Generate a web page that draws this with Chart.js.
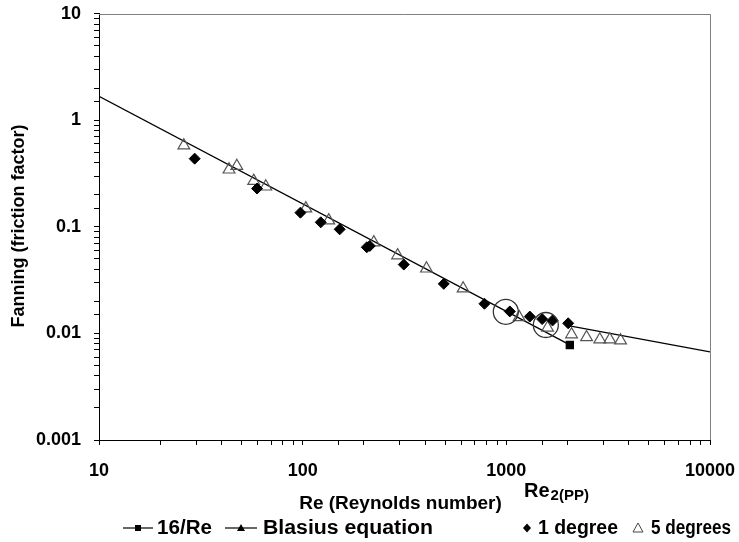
<!DOCTYPE html>
<html><head><meta charset="utf-8">
<script src="https://cdn.jsdelivr.net/npm/chart.js@4.4.1/dist/chart.umd.min.js"></script>
<style>html,body{margin:0;padding:0;background:#fff;}</style>
</head><body>
<canvas id="c" width="739" height="542" style="display:block;width:739px;height:542px"></canvas>
<script>
const laminarRe = [10, 2050];
const laminarF = [1.68, 0.0078];
const blasiusRe = [2075, 10000];
const blasiusF = [0.0117, 0.0067];
const deg1Re = [29.5, 59.7, 97.5, 122.7, 152, 206.5, 213.6, 313.7, 493, 781, 1040, 1304, 1499, 1686, 2012];
const deg1F = [0.437, 0.229, 0.136, 0.1104, 0.0949, 0.0644, 0.0663, 0.0443, 0.0292, 0.019, 0.0161, 0.0144, 0.01364, 0.01324, 0.01246];
const deg5Re = [26.1, 43.5, 47.5, 57.5, 65.9, 103.6, 134.3, 223.4, 292.5, 405.5, 613.6, 1156, 1594, 2090, 2477, 2878, 3222, 3639];
const deg5F = [0.58, 0.345, 0.373, 0.27, 0.239, 0.149, 0.115, 0.0715, 0.054, 0.0406, 0.0264, 0.0142, 0.0113, 0.0098, 0.0092, 0.00877, 0.00877, 0.00858];
const circleRe = [994, 1563];
const circleF = [0.01596, 0.012];
const xTickLabels = ['10', '100', '1000', '10000'];
const yTickLabels = ['0.001', '0.01', '0.1', '1', '10'];
const legendLabels = ['16/Re', 'Blasius equation', '1 degree', '5 degrees'];

const FONT = '"Liberation Sans", Arial, sans-serif';
const pts = (xs, ys) => xs.map((x, i) => ({x: x, y: ys[i]}));

function fitText(ctx, text, x, y, width) {
  const nat = ctx.measureText(text).width;
  ctx.save();
  ctx.translate(x, y);
  ctx.scale(width / nat, 1);
  ctx.fillText(text, 0, 0);
  ctx.restore();
}

const decor = {
  id: 'decor',
  afterDraw(chart) {
    const ctx = chart.ctx, a = chart.chartArea;
    ctx.save();
    // top & right frame
    ctx.strokeStyle = '#808080'; ctx.lineWidth = 1;
    ctx.beginPath();
    ctx.moveTo(a.left, Math.round(a.top) + 0.5);
    ctx.lineTo(Math.round(a.right) + 0.5, Math.round(a.top) + 0.5);
    ctx.lineTo(Math.round(a.right) + 0.5, a.bottom);
    ctx.stroke();
    ctx.fillStyle = '#000';
    ctx.textBaseline = 'middle';
    // x title
    ctx.font = 'bold 19px ' + FONT;
    ctx.textAlign = 'center';
    ctx.fillText('Re (Reynolds number)', (a.left + a.right) / 2 - 4, 504);
    // Re2(PP)
    ctx.textAlign = 'left';
    ctx.font = 'bold 20px ' + FONT;
    ctx.fillText('Re', 524, 491);
    const w = ctx.measureText('Re').width;
    ctx.font = 'bold 15px ' + FONT;
    ctx.fillText('2(PP)', 524 + w + 1, 496);
    // y title
    ctx.save();
    ctx.translate(19, (a.top + a.bottom) / 2 - 1);
    ctx.rotate(-Math.PI / 2);
    ctx.font = 'bold 18px ' + FONT;
    ctx.textAlign = 'center';
    ctx.fillText('Fanning (friction factor)', 0, 0);
    ctx.restore();
    // legend
    const ly = 528;
    ctx.font = 'bold 20px ' + FONT;
    ctx.textAlign = 'left';
    ctx.strokeStyle = '#000'; ctx.lineWidth = 1.2;
    // 16/Re
    ctx.beginPath(); ctx.moveTo(123, ly); ctx.lineTo(153, ly); ctx.stroke();
    ctx.fillRect(138 - 3, ly - 3, 6, 6);
    fitText(ctx, legendLabels[0], 157, ly, 55);
    // Blasius
    ctx.beginPath(); ctx.moveTo(225, ly); ctx.lineTo(257, ly); ctx.stroke();
    ctx.beginPath(); ctx.moveTo(241, ly - 4); ctx.lineTo(245, ly + 3); ctx.lineTo(237, ly + 3); ctx.closePath(); ctx.fill();
    fitText(ctx, legendLabels[1], 263, ly, 170);
    // 1 degree
    ctx.beginPath(); ctx.moveTo(527, ly - 4.5); ctx.lineTo(531, ly); ctx.lineTo(527, ly + 4.5); ctx.lineTo(523, ly); ctx.closePath(); ctx.fill();
    fitText(ctx, legendLabels[2], 538, ly, 80);
    // 5 degrees
    ctx.strokeStyle = '#444'; ctx.lineWidth = 1;
    ctx.beginPath(); ctx.moveTo(638, ly - 5); ctx.lineTo(643, ly + 4); ctx.lineTo(633, ly + 4); ctx.closePath(); ctx.stroke();
    fitText(ctx, legendLabels[3], 651, ly, 80);
    ctx.restore();
  }
};

const isPow10 = v => { const e = Math.log10(v); return Math.abs(e - Math.round(e)) < 1e-6; };

new Chart(document.getElementById('c'), {
  type: 'scatter',
  data: {
    datasets: [
      { label: 'circles', data: pts(circleRe, circleF), pointStyle: 'circle', pointRadius: 12.5, pointHoverRadius: 12.5,
        borderColor: '#333', backgroundColor: 'rgba(0,0,0,0)', borderWidth: 1.3, order: 0 },
      { label: legendLabels[2], data: pts(deg1Re, deg1F), pointStyle: 'rectRot', pointRadius: 5.5,
        backgroundColor: '#000', borderColor: '#000', borderWidth: 1, order: 1 },
      { label: legendLabels[3], data: pts(deg5Re, deg5F), pointStyle: 'triangle', pointRadius: 6.8,
        backgroundColor: 'rgba(0,0,0,0)', borderColor: '#555', borderWidth: 1.2, order: 2 },
      { label: legendLabels[0], data: pts(laminarRe, laminarF), showLine: true, borderColor: '#000', borderWidth: 1.3,
        pointStyle: 'rect', pointRadius: [0, 5], backgroundColor: '#000', order: 3 },
      { label: legendLabels[1], data: pts(blasiusRe, blasiusF), showLine: true, borderColor: '#000', borderWidth: 1.3,
        pointRadius: 0, order: 4 }
    ]
  },
  options: {
    responsive: false,
    animation: false,
    devicePixelRatio: 1,
    layout: { padding: { top: 13, right: 29, left: 0, bottom: 0 } },
    plugins: { legend: { display: false }, tooltip: { enabled: false } },
    scales: {
      x: {
        type: 'logarithmic', min: 10, max: 10000,
        afterFit: s => { s.height = 102; s.paddingLeft = 0; s.paddingRight = 0; },
        border: { color: '#000', width: 1 },
        grid: { drawOnChartArea: false, drawTicks: true, tickLength: 5, color: '#000' },
        ticks: {
          autoSkip: false, maxRotation: 0, padding: 15, color: '#000',
          font: { family: FONT, size: 18, weight: 'bold' },
          callback: v => isPow10(v) ? xTickLabels[Math.round(Math.log10(v)) - 1] : ''
        }
      },
      y: {
        type: 'logarithmic', min: 0.001, max: 10,
        afterFit: s => { s.width = 99; s.paddingTop = 0; s.paddingBottom = 0; },
        border: { color: '#000', width: 1 },
        grid: { drawOnChartArea: false, drawTicks: true, tickLength: 5, color: '#000' },
        ticks: {
          autoSkip: false, padding: 13, color: '#000',
          font: { family: FONT, size: 18, weight: 'bold' },
          callback: v => isPow10(v) ? yTickLabels[Math.round(Math.log10(v)) + 3] : ''
        }
      }
    }
  },
  plugins: [decor]
});
</script>
</body></html>
